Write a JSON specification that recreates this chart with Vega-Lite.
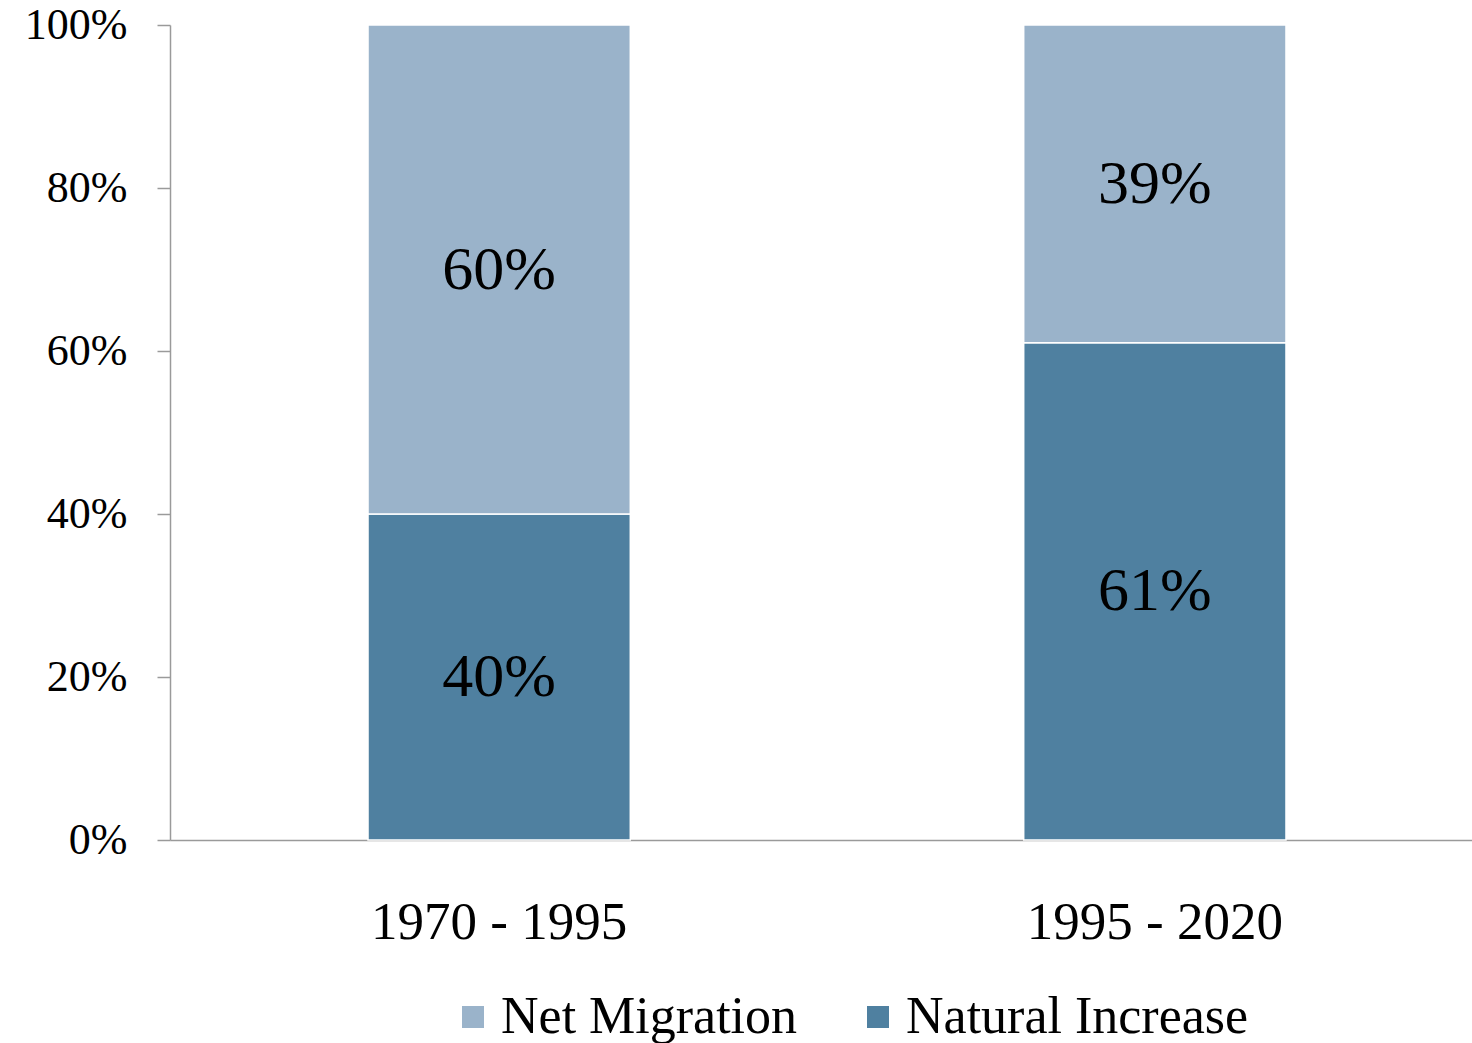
{
  "$schema": "https://vega.github.io/schema/vega-lite/v6.json",
  "width": 1302,
  "height": 815,
  "autosize": {"type": "none"},
  "padding": {"left": 170, "top": 25, "right": 0, "bottom": 203},
  "background": "white",
  "config": {"view": {"stroke": null}, "font": "Liberation Serif"},
  "data": {
    "values": [
      {"period": "1970 - 1995", "component": "Natural Increase", "share": 0.40, "label": "40%"},
      {"period": "1970 - 1995", "component": "Net Migration", "share": 0.60, "label": "60%"},
      {"period": "1995 - 2020", "component": "Natural Increase", "share": 0.61, "label": "61%"},
      {"period": "1995 - 2020", "component": "Net Migration", "share": 0.39, "label": "39%"}
    ]
  },
  "transform": [
    {"stack": "share", "groupby": ["period"], "sort": [{"field": "component", "order": "ascending"}], "as": ["s0", "s1"]},
    {"calculate": "(datum.s0 + datum.s1) / 2", "as": "smid"}
  ],
  "encoding": {
    "x": {
      "field": "period", "type": "nominal",
      "scale": {"range": [0, 1314], "paddingInner": 0.6, "paddingOuter": 0.302},
      "axis": {"title": null, "labelAngle": 0, "ticks": false, "domainColor": "#9a9a9a", "domainWidth": 1.5, "labelFontSize": 53, "labelColor": "black", "labelPadding": 56, "labelLimit": 600}
    }
  },
  "layer": [
    {
      "mark": {"type": "bar", "stroke": "white", "strokeWidth": 1.5},
      "encoding": {
        "y": {
          "field": "s0", "type": "quantitative",
          "scale": {"domain": [0, 1], "nice": false},
          "axis": {"title": null, "format": ".0%", "values": [0, 0.2, 0.4, 0.6, 0.8, 1], "grid": false, "domainColor": "#9a9a9a", "domainWidth": 1.5, "tickColor": "#9a9a9a", "tickWidth": 1.5, "tickSize": 13, "labelFontSize": 44, "labelColor": "black", "labelPadding": 30, "labelBaseline": "middle"}
        },
        "y2": {"field": "s1"},
        "color": {
          "field": "component", "type": "nominal",
          "scale": {"domain": ["Net Migration", "Natural Increase"], "range": ["#9ab3ca", "#4f80a0"]},
          "legend": {"title": null, "orient": "none", "legendX": 277, "legendY": 966, "direction": "horizontal", "symbolType": "square", "symbolSize": 484, "symbolStrokeWidth": 0, "labelFontSize": 52, "labelColor": "black", "labelOffset": 2, "columnPadding": 54, "labelLimit": 500}
        }
      }
    },
    {
      "mark": {"type": "text", "fontSize": 62, "color": "black", "baseline": "middle"},
      "encoding": {
        "y": {"field": "smid", "type": "quantitative"},
        "text": {"field": "label"}
      }
    }
  ]
}
